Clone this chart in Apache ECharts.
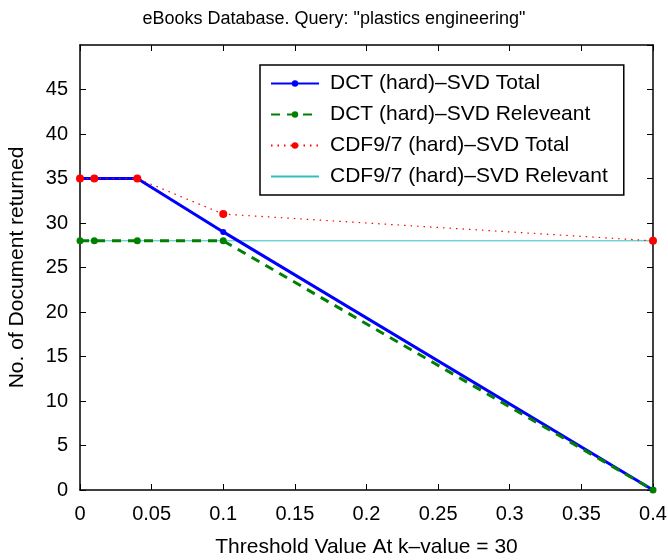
<!DOCTYPE html>
<html>
<head>
<meta charset="utf-8">
<script src="https://cdn.jsdelivr.net/npm/echarts@6/dist/echarts.min.js"></script>
<style>
  html, body { margin: 0; padding: 0; background: #fff; }
  #main { width: 668px; height: 560px; }
</style>
</head>
<body>
<div id="main"></div>
<script>
var chartDom = document.getElementById('main');
var myChart = echarts.init(chartDom);
var option;

// threshold values (x)
const thresholds = [0, 0.01, 0.04, 0.1, 0.4];
const dctTotal = [35, 35, 35, 29, 0];
const dctRelevant = [28, 28, 28, 28, 0];
const cdfTotal = [35, 35, 35, 31, 28];
const cdfRelevant = [28, 28, 28, 28, 28];

const seriesNames = [
  'DCT (hard)\u2013SVD Total',
  'DCT (hard)\u2013SVD Releveant',
  'CDF9/7 (hard)\u2013SVD Total',
  'CDF9/7 (hard)\u2013SVD Relevant'
];

function pairs(ys) {
  return thresholds.map((x, i) => [x, ys[i]]);
}

const font = 'Liberation Sans, Arial, sans-serif';

option = {
  animation: false,
  title: {
    text: 'eBooks Database. Query: "plastics engineering"',
    left: 'center',
    top: 5,
    textStyle: { fontFamily: font, fontSize: 18, fontWeight: 'normal', color: '#000' }
  },
  grid: { left: 80, right: 15, top: 45, bottom: 70, outerBoundsMode: 'none', containLabel: false },
  legend: {
    orient: 'vertical',
    left: 260,
    top: 65,
    padding: [8, 16, 8, 10],
    itemWidth: 48,
    itemHeight: 8,
    itemGap: 10,
    borderColor: '#000',
    borderWidth: 1.5,
    backgroundColor: '#fff',
    textStyle: { fontFamily: font, fontSize: 21, color: '#000', padding: [0, 0, 0, 6] },
    data: [
      { name: seriesNames[0] },
      { name: seriesNames[1] },
      { name: seriesNames[2] },
      { name: seriesNames[3], itemStyle: { opacity: 0 } }
    ]
  },
  xAxis: [
    {
      type: 'value',
      min: 0,
      max: 0.4,
      interval: 0.05,
      name: 'Threshold Value At k\u2013value = 30',
      nameLocation: 'middle',
      nameGap: 47,
      nameTextStyle: { fontFamily: font, fontSize: 21, color: '#000' },
      axisLine: { onZero: false, lineStyle: { color: '#000', width: 1.5 } },
      axisTick: { inside: true, length: 6, lineStyle: { color: '#000' } },
      axisLabel: { fontFamily: font, fontSize: 20, color: '#000', margin: 14 },
      splitLine: { show: false }
    },
    {
      type: 'value',
      position: 'top',
      min: 0,
      max: 0.4,
      interval: 0.05,
      axisLine: { show: true, onZero: false, lineStyle: { color: '#000', width: 1.5 } },
      axisTick: { inside: true, length: 6, lineStyle: { color: '#000' } },
      axisLabel: { show: false },
      splitLine: { show: false }
    }
  ],
  yAxis: [
    {
      type: 'value',
      min: 0,
      max: 50,
      interval: 5,
      name: 'No. of Document returned',
      nameLocation: 'middle',
      nameGap: 52,
      nameTextStyle: { fontFamily: font, fontSize: 21, color: '#000' },
      axisLine: { show: true, onZero: false, lineStyle: { color: '#000', width: 1.5 } },
      axisTick: { inside: true, length: 6, lineStyle: { color: '#000' } },
      axisLabel: { fontFamily: font, fontSize: 20, color: '#000', margin: 12, showMaxLabel: false },
      splitLine: { show: false }
    },
    {
      type: 'value',
      position: 'right',
      min: 0,
      max: 50,
      interval: 5,
      axisLine: { show: true, onZero: false, lineStyle: { color: '#000', width: 1.5 } },
      axisTick: { inside: true, length: 6, lineStyle: { color: '#000' } },
      axisLabel: { show: false },
      splitLine: { show: false }
    }
  ],
  series: [
    {
      name: seriesNames[0],
      type: 'line',
      data: pairs(dctTotal),
      symbol: 'circle',
      symbolSize: 6,
      itemStyle: { color: '#0000ff' },
      lineStyle: { color: '#0000ff', width: 3 },
      z: 2
    },
    {
      name: seriesNames[1],
      type: 'line',
      data: pairs(dctRelevant),
      symbol: 'circle',
      symbolSize: 7,
      itemStyle: { color: '#008000' },
      lineStyle: { color: '#008000', width: 3, type: [9, 7] },
      z: 3
    },
    {
      name: seriesNames[2],
      type: 'line',
      data: pairs(cdfTotal),
      symbol: 'circle',
      symbolSize: 8,
      itemStyle: { color: '#ff0000' },
      lineStyle: { color: '#ff0000', width: 1.2, type: [1.5, 5] },
      z: 4
    },
    {
      name: seriesNames[3],
      type: 'line',
      data: pairs(cdfRelevant),
      symbol: 'none',
      itemStyle: { color: '#33bfbf' },
      lineStyle: { color: '#33bfbf', width: 1 },
      z: 1
    }
  ]
};

option && myChart.setOption(option);
</script>
</body>
</html>
